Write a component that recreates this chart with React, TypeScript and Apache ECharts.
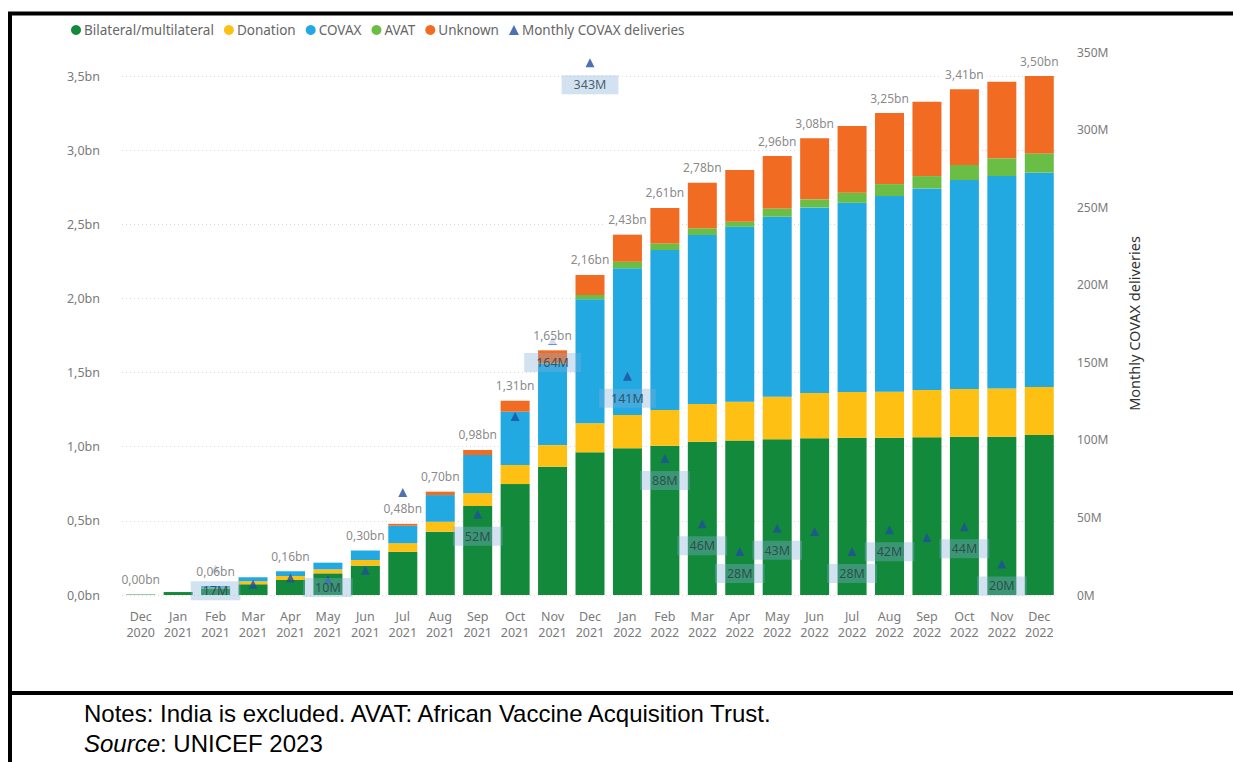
import React, { useEffect, useRef } from "react";
import * as echarts from "echarts";

const categories = [
  "Dec\n2020", "Jan\n2021", "Feb\n2021", "Mar\n2021", "Apr\n2021", "May\n2021", "Jun\n2021",
  "Jul\n2021", "Aug\n2021", "Sep\n2021", "Oct\n2021", "Nov\n2021", "Dec\n2021", "Jan\n2022",
  "Feb\n2022", "Mar\n2022", "Apr\n2022", "May\n2022", "Jun\n2022", "Jul\n2022", "Aug\n2022",
  "Sep\n2022", "Oct\n2022", "Nov\n2022", "Dec\n2022",
];

// cumulative doses, billions
const bilateral = [0.003, 0.02, 0.045, 0.072, 0.101, 0.146, 0.198, 0.292, 0.427, 0.6, 0.748, 0.865, 0.962, 0.99, 1.007, 1.034, 1.042, 1.05, 1.057, 1.061, 1.061, 1.063, 1.068, 1.068, 1.079];
const donation = [0, 0, 0.004, 0.02, 0.027, 0.027, 0.038, 0.057, 0.067, 0.086, 0.129, 0.146, 0.196, 0.224, 0.24, 0.254, 0.261, 0.287, 0.305, 0.308, 0.31, 0.319, 0.321, 0.325, 0.324];
const covax = [0, 0, 0.011, 0.027, 0.032, 0.045, 0.064, 0.118, 0.18, 0.258, 0.359, 0.549, 0.836, 0.989, 1.079, 1.14, 1.18, 1.214, 1.252, 1.276, 1.319, 1.36, 1.409, 1.432, 1.445];
const avat = [0, 0, 0, 0, 0, 0, 0, 0, 0, 0, 0, 0.005, 0.029, 0.044, 0.045, 0.045, 0.034, 0.056, 0.054, 0.068, 0.081, 0.083, 0.102, 0.12, 0.13];
const unknown = [0, 0, 0, 0, 0, 0, 0, 0.013, 0.023, 0.034, 0.074, 0.085, 0.135, 0.183, 0.239, 0.307, 0.349, 0.353, 0.412, 0.45, 0.479, 0.502, 0.51, 0.516, 0.522];
const showTotal = [1, 0, 1, 0, 1, 0, 1, 1, 1, 1, 1, 1, 1, 1, 1, 1, 0, 1, 1, 0, 1, 0, 1, 0, 1];

// monthly COVAX deliveries, millions
const deliveries = [null, null, 17, 7, 11, 10, 16, 66, null, 52, 115, 164, 343, 141, 88, 46, 28, 43, 41, 28, 42, 37, 44, 20, null];
const showDelivery = [0, 0, 1, 0, 0, 1, 0, 0, 0, 1, 0, 1, 1, 1, 1, 1, 1, 1, 0, 1, 1, 0, 1, 1, 0];

const leftTicks = [0, 0.5, 1, 1.5, 2, 2.5, 3, 3.5];
const rightTicks = [0, 50, 100, 150, 200, 250, 300, 350];

const COLORS = {
  bilateral: "#138a3b",
  donation: "#fdc013",
  covax: "#22a9e1",
  avat: "#6abd45",
  unknown: "#f26b22",
  delivery: "#1f4f9e",
};

const fmtBn = (v: number, d: number) => v.toFixed(d).replace(".", ",") + "bn";

export default function App() {
  const ref = useRef<HTMLDivElement>(null);
  useEffect(() => {
    if (!ref.current) return;
    const chart = echarts.init(ref.current, null, { renderer: "svg" });
    const totals = bilateral.map((b, i) => b + donation[i] + covax[i] + avat[i] + unknown[i]);
    const gridL = 122, gridR = 1233 - 1058, gridB = 762 - 595;
    const axisLabelStyle = { color: "#7a7a7a", fontSize: 12.5, fontFamily: "Noto Sans" };
    const barCommon = {
      type: "bar" as const,
      stack: "total",
      barWidth: 29,
      xAxisIndex: 0,
      yAxisIndex: 0,
    };
    chart.setOption({
      animation: false,
      backgroundColor: "#fff",
      legend: {
        left: 66,
        top: 18,
        itemWidth: 10,
        itemHeight: 10,
        itemGap: 10,
        textStyle: { color: "#666", fontSize: 13.5, fontFamily: "Noto Sans", padding: [0, 0, 0, -2] },
        data: [
          { name: "Bilateral/multilateral", icon: "circle" },
          { name: "Donation", icon: "circle" },
          { name: "COVAX", icon: "circle" },
          { name: "AVAT", icon: "circle" },
          { name: "Unknown", icon: "circle" },
          { name: "Monthly COVAX deliveries", icon: "triangle" },
        ],
      },
      grid: [
        { left: gridL, right: gridR, top: 76, bottom: gridB },
        { left: gridL, right: gridR, top: 52, bottom: gridB },
      ],
      xAxis: [
        {
          type: "category",
          gridIndex: 0,
          data: categories,
          axisLine: { show: false },
          axisTick: { show: false },
          axisLabel: { ...axisLabelStyle, lineHeight: 16, margin: 13, interval: 0 },
        },
        {
          type: "category",
          gridIndex: 1,
          data: categories,
          show: false,
        },
      ],
      yAxis: [
        {
          type: "value",
          gridIndex: 0,
          min: leftTicks[0],
          max: leftTicks[leftTicks.length - 1],
          interval: leftTicks[1] - leftTicks[0],
          axisLine: { show: false },
          axisTick: { show: false },
          axisLabel: { ...axisLabelStyle, margin: 22, formatter: (v: number) => fmtBn(v, 1) },
          splitLine: { lineStyle: { color: "#d8d8d8", type: [1, 3], width: 1 } },
        },
        {
          type: "value",
          gridIndex: 1,
          position: "right",
          min: rightTicks[0],
          max: rightTicks[rightTicks.length - 1],
          interval: rightTicks[1] - rightTicks[0],
          axisLine: { show: false },
          axisTick: { show: false },
          splitLine: { show: false },
          axisLabel: { ...axisLabelStyle, fontSize: 12, margin: 19, formatter: (v: number) => v + "M" },
          name: "Monthly COVAX deliveries",
          nameLocation: "middle",
          nameRotate: 90,
          nameGap: 68,
          nameTextStyle: { color: "#333", fontSize: 14.5, fontFamily: "Noto Sans" },
        },
      ],
      series: [
        { ...barCommon, name: "Bilateral/multilateral", data: bilateral, itemStyle: { color: COLORS.bilateral } },
        { ...barCommon, name: "Donation", data: donation, itemStyle: { color: COLORS.donation } },
        { ...barCommon, name: "COVAX", data: covax, itemStyle: { color: COLORS.covax } },
        { ...barCommon, name: "AVAT", data: avat, itemStyle: { color: COLORS.avat } },
        { ...barCommon, name: "Unknown", data: unknown, itemStyle: { color: COLORS.unknown } },
        {
          type: "scatter",
          name: "Monthly COVAX deliveries",
          xAxisIndex: 1,
          yAxisIndex: 1,
          symbol: "triangle",
          symbolSize: 9,
          z: 10,
          itemStyle: { color: COLORS.delivery },
          data: deliveries.map((d, i) => ({
            value: d,
            label:
              d != null && d < 14
                ? { show: !!showDelivery[i], position: "inside", offset: [0, 8] }
                : { show: !!showDelivery[i] },
          })),
          label: {
            position: "bottom",
            distance: 8,
            color: "#2b3a4a",
            fontSize: 12.5,
            fontFamily: "Noto Sans",
            backgroundColor: "rgba(130,175,215,0.45)",
            padding: [3, 12],
            formatter: (p: any) => deliveries[p.dataIndex] + "M",
          },
        },
        {
          type: "scatter",
          name: "totals",
          xAxisIndex: 0,
          yAxisIndex: 0,
          symbolSize: 0,
          silent: true,
          z: 12,
          data: totals.map((t, i) => ({
            value: t,
            label: { show: !!showTotal[i] },
          })),
          label: {
            position: "top",
            distance: 6,
            color: "#6a6a6a",
            fontSize: 12,
            fontFamily: "Noto Sans",
            backgroundColor: "rgba(255,255,255,0.95)",
            padding: [3, 3],
            formatter: (p: any) => fmtBn(totals[p.dataIndex], 2),
          },
        },
      ],
      graphic: [
        {
          type: "text",
          left: 25,
          top: -23,
          style: {
            text: "channel: cumulative doses",
            font: 'bold 25px "Liberation Sans"',
            fill: "#000",
          },
          z: 100,
        },
        { type: "line", shape: { x1: 10, y1: 12, x2: 10, y2: 762 }, style: { stroke: "#000", lineWidth: 4 }, z: 100 },
        { type: "line", shape: { x1: 8, y1: 13.5, x2: 1233, y2: 13.5 }, style: { stroke: "#000", lineWidth: 4 }, z: 100 },
        { type: "line", shape: { x1: 8, y1: 693, x2: 1233, y2: 693 }, style: { stroke: "#000", lineWidth: 4 }, z: 100 },
        {
          type: "text",
          left: 84,
          top: 701,
          style: {
            text: "Notes: India is excluded. AVAT: African Vaccine Acquisition Trust.",
            font: '24px "Liberation Sans"',
            fill: "#000",
          },
        },
        {
          type: "text",
          left: 84,
          top: 731,
          style: {
            text: "{i|Source}: UNICEF 2023",
            font: '24px "Liberation Sans"',
            fill: "#000",
            rich: { i: { fontStyle: "italic", fontSize: 24, fontFamily: "Liberation Sans", fill: "#000" } },
          },
        },
      ],
    });
    return () => chart.dispose();
  }, []);
  return (
    <div
      ref={ref}
      style={{ position: "fixed", left: 0, top: 0, width: 1233, height: 762, background: "#fff" }}
    />
  );
}
